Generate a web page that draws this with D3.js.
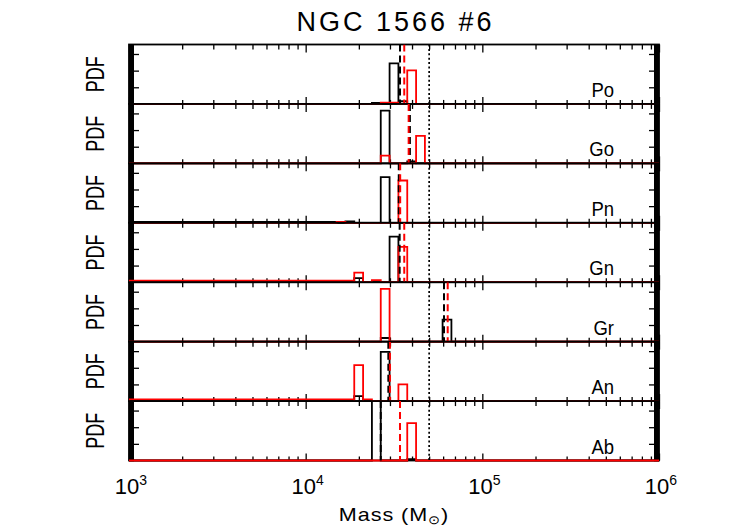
<!DOCTYPE html>
<html>
<head>
<meta charset="utf-8">
<script src="https://cdn.jsdelivr.net/npm/d3@7"></script>
<style>
  body { margin: 0; background: #fff; }
  text { font-family: "Liberation Sans", Arial, sans-serif; fill: #000; }
</style>
</head>
<body>
<script>
// frame size and plot box
const FRAME_WIDTH = 739;
const FRAME_HEIGHT = 528;
const LEFT = 129, RIGHT = 659, TOP = 44.5, BOTTOM = 460.5;

// panel names, top to bottom
const panelNames = ["Po", "Go", "Pn", "Gn", "Gr", "An", "Ab"];

// histogram steps per panel: [log10 M low, log10 M high, PDF]
const blackHist = [
  [[4.375, 4.425, 0.06], [4.475, 4.525, 2.44], [4.525, 4.575, 0.16]],
  [[4.425, 4.475, 3.17], [4.575, 4.625, 0.12]],
  [[3.0, 4.175, 0.06], [4.225, 4.275, 0.08], [4.425, 4.475, 2.74]],
  [[4.275, 4.325, 0.24], [4.475, 4.525, 2.74]],
  [[4.425, 4.475, 0.22], [4.775, 4.825, 1.32]],
  [[4.275, 4.325, 0.3], [4.425, 4.475, 2.96]],
  [[4.375, 4.425, 4.2], [4.575, 4.625, 0.08]]
];
const redHist = [
  [[4.425, 4.525, 0.08], [4.575, 4.625, 2.02]],
  [[4.425, 4.475, 0.46], [4.625, 4.675, 1.65]],
  [[4.175, 4.225, 0.05], [4.525, 4.575, 2.54]],
  [[3.0, 4.275, 0.1], [4.275, 4.325, 0.58], [4.375, 4.425, 0.12], [4.525, 4.575, 2.12]],
  [[4.425, 4.475, 3.17]],
  [[3.0, 4.275, 0.1], [4.275, 4.325, 2.16], [4.325, 4.375, 0.1], [4.525, 4.575, 1.0]],
  [[4.575, 4.625, 2.25]]
];

// medians (log10 M), dashed lines
const blackMedian = [4.534, 4.590, 4.527, 4.532, 4.783, 4.468, 4.425];
const redMedian = [4.558, 4.583, 4.535, 4.558, 4.804, 4.477, 4.534];

// reference mass, dotted line
const refMass = 5e4;

// axis ticks
const xMajor = [1e3, 1e4, 1e5, 1e6];
const xExp = ["3", "4", "5", "6"];
const yMajor = [1, 2, 3];
const Y_MAX = 3.57;

const panelH = (BOTTOM - TOP) / panelNames.length;

const svg = d3.select("body")
  .append("svg")
    .attr("width", FRAME_WIDTH)
    .attr("height", FRAME_HEIGHT);

const defs = svg.append("defs");

// log mass scale shared by all panels
const X_SCALE = d3.scaleLog()
  .domain([1e3, 1e6])
  .range([LEFT, RIGHT]);

const xMinor = X_SCALE.ticks().filter(d => !xMajor.includes(d));
// IDL draws a dense comb of minor ticks on the y axes
const yMinor = d3.range(0.03, Y_MAX, 0.03);

// step outline like IDL psym=10, baseline runs across the whole range
function stepPath(steps, Y) {
  let p = "M" + X_SCALE(1e3) + "," + Y(0);
  steps.forEach(s => {
    const xa = X_SCALE(Math.pow(10, s[0]));
    const xb = X_SCALE(Math.pow(10, s[1]));
    p += "L" + xa + "," + Y(0) + "L" + xa + "," + Y(s[2]) +
         "L" + xb + "," + Y(s[2]) + "L" + xb + "," + Y(0);
  });
  p += "L" + X_SCALE(1e6) + "," + Y(0);
  return p;
}

function tickAxis(g, axis, w) {
  g.call(axis).attr("color", "#000");
  g.select(".domain").remove();
  g.selectAll("line").attr("stroke-width", w || 1.3);
}

panelNames.forEach((name, i) => {
  const y0 = TOP + i * panelH;
  const y1 = y0 + panelH;
  const Y_SCALE = d3.scaleLinear().domain([0, Y_MAX]).range([y1, y0]);
  const g = svg.append("g");

  // ticks on every side, pointing inward
  tickAxis(g.append("g").attr("transform", "translate(0," + y1 + ")"),
    d3.axisTop(X_SCALE).tickValues(xMinor).tickSize(4).tickFormat(""));
  tickAxis(g.append("g").attr("transform", "translate(0," + y1 + ")"),
    d3.axisTop(X_SCALE).tickValues(xMajor).tickSize(7).tickFormat(""));
  tickAxis(g.append("g").attr("transform", "translate(0," + y0 + ")"),
    d3.axisBottom(X_SCALE).tickValues(xMinor).tickSize(5).tickFormat(""));
  tickAxis(g.append("g").attr("transform", "translate(0," + y0 + ")"),
    d3.axisBottom(X_SCALE).tickValues(xMajor).tickSize(8).tickFormat(""));
  tickAxis(g.append("g").attr("transform", "translate(" + LEFT + ",0)"),
    d3.axisRight(Y_SCALE).tickValues(yMinor).tickSize(5).tickFormat(""), 1.6);
  tickAxis(g.append("g").attr("transform", "translate(" + LEFT + ",0)"),
    d3.axisRight(Y_SCALE).tickValues(yMajor).tickSize(10).tickFormat(""));
  tickAxis(g.append("g").attr("transform", "translate(" + RIGHT + ",0)"),
    d3.axisLeft(Y_SCALE).tickValues(yMinor).tickSize(5).tickFormat(""), 1.6);
  tickAxis(g.append("g").attr("transform", "translate(" + RIGHT + ",0)"),
    d3.axisLeft(Y_SCALE).tickValues(yMajor).tickSize(10).tickFormat(""));

  // frame
  g.append("rect")
    .attr("x", LEFT).attr("y", y0)
    .attr("width", RIGHT - LEFT).attr("height", panelH)
    .attr("fill", "none").attr("stroke", "#000").attr("stroke-width", 1.8);

  defs.append("clipPath").attr("id", "clip" + i)
    .append("rect")
      .attr("x", LEFT).attr("y", y0)
      .attr("width", RIGHT - LEFT).attr("height", panelH + 1.5);

  const h = g.append("g").attr("clip-path", "url(#clip" + i + ")");

  h.append("path")
    .attr("d", stepPath(blackHist[i], Y_SCALE))
    .attr("fill", "none").attr("stroke", "#000").attr("stroke-width", 1.8);
  h.append("path")
    .attr("d", stepPath(redHist[i], Y_SCALE))
    .attr("fill", "none").attr("stroke", "#ff0000").attr("stroke-width", 1.8);

  // medians
  [[blackMedian[i], "#000"], [redMedian[i], "#ff0000"]].forEach(m => {
    const xm = X_SCALE(Math.pow(10, m[0]));
    h.append("line")
      .attr("x1", xm).attr("x2", xm)
      .attr("y1", y0).attr("y2", y1)
      .attr("stroke", m[1]).attr("stroke-width", 2)
      .attr("stroke-dasharray", "7,4");
  });

  // panel label
  svg.append("text")
    .attr("transform", "translate(614," + (y1 - 7) + ") scale(0.88,1)")
    .attr("text-anchor", "end")
    .attr("font-size", 21)
    .text(name);

  // y label
  svg.append("text")
    .attr("transform", "translate(103.5," + ((y0 + y1) / 2) + ") rotate(-90) scale(0.72,1)")
    .attr("text-anchor", "middle")
    .attr("font-size", 25)
    .text("PDF");
});

// dotted reference line across all panels
svg.append("line")
  .attr("x1", X_SCALE(refMass)).attr("x2", X_SCALE(refMass))
  .attr("y1", TOP).attr("y2", BOTTOM)
  .attr("stroke", "#000").attr("stroke-width", 1.7)
  .attr("stroke-dasharray", "2,2.4");

// x tick labels 10^k
xMajor.forEach((v, i) => {
  const t = svg.append("text")
    .attr("x", X_SCALE(v) + 2)
    .attr("y", 494)
    .attr("text-anchor", "middle")
    .attr("font-size", 22);
  t.append("tspan").text("10");
  t.append("tspan").attr("dy", -9).attr("font-size", 14).text(xExp[i]);
});

// x title
const xt = svg.append("text")
  .attr("transform", "translate(" + ((LEFT + RIGHT) / 2) + ",521) scale(1.2,1)")
  .attr("text-anchor", "middle")
  .attr("font-size", 18)
  .attr("letter-spacing", 0.8);
xt.append("tspan").text("Mass (M");
xt.append("tspan").attr("dy", 3).attr("font-size", 12).text("\u2299");
xt.append("tspan").attr("dy", -3).text(")");

// title
svg.append("text")
  .attr("x", (LEFT + RIGHT) / 2)
  .attr("y", 31)
  .attr("text-anchor", "middle")
  .attr("font-size", 27)
  .attr("textLength", 195)
  .attr("lengthAdjust", "spacing")
  .text("NGC 1566 #6");
</script>
</body>
</html>
